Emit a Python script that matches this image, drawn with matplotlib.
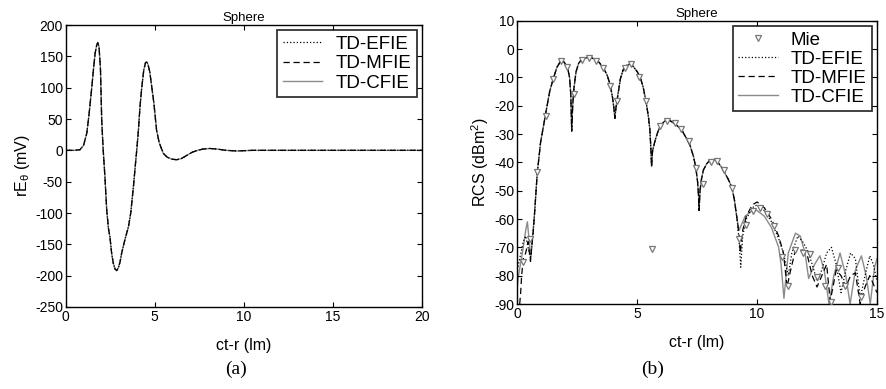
import numpy as np
import matplotlib
matplotlib.use("Agg")
import matplotlib.pyplot as plt

plt.rcParams["font.family"] = ["Liberation Sans", "DejaVu Sans"]
plt.rcParams["mathtext.fontset"] = "custom"
plt.rcParams["mathtext.rm"] = "Liberation Sans"
plt.rcParams["mathtext.it"] = "Liberation Sans"
plt.rcParams["axes.unicode_minus"] = False

# ---- (a) far-field time signature ----
time_lm = [0.0, 0.5, 0.8, 1.0, 1.18, 1.3, 1.46, 1.56, 1.65, 1.74, 1.8, 1.87, 1.95,
           2.02, 2.1, 2.2, 2.3, 2.4, 2.48, 2.58, 2.67, 2.76, 2.86, 2.96, 3.05, 3.14,
           3.3, 3.52, 3.65, 3.8, 3.92, 4.0, 4.08, 4.17, 4.27, 4.38, 4.48, 4.55, 4.62,
           4.72, 4.83, 4.95, 5.1, 5.25, 5.48, 5.7, 5.95, 6.23, 6.5, 6.8, 7.1, 7.4,
           7.7, 8.1, 8.5, 9.0, 9.6, 10.5, 12.0, 14.0, 16.0, 18.0, 20.0]
e_theta_mv = [0, 0, 1, 8, 27, 55, 100, 130, 155, 168, 172, 165, 130,
              48, 2, -42, -95, -125, -138, -165, -180, -189, -192, -187, -178, -164,
              -145, -122, -100, -58, -20, 5, 32, 70, 101, 128, 140, 141, 137,
              125, 101, 75, 32, 12, -5, -11, -14, -15, -13, -8, -3, 0,
              2, 3, 2, 0, -1, 0, 0, 0, 0, 0, 0]

# ---- (b) RCS vs. frequency ----
mie_f = [0.23, 0.53, 0.83, 1.20, 1.50, 1.81, 2.09, 2.36, 2.68, 3.00, 3.28, 3.59,
         3.87, 4.14, 4.50, 4.75, 5.07, 5.35, 5.63, 5.95, 6.26, 6.56, 6.84, 7.15,
         7.45, 7.73, 8.06, 8.31, 8.62, 8.94, 9.25, 9.54, 9.84, 10.13, 10.43,
         10.72, 11.03, 11.30, 11.60, 11.93, 12.20, 12.51, 12.83, 13.08, 13.39,
         13.67, 14.32]
mie_rcs = [-75, -67, -43.5, -23.6, -10.5, -4.2, -6.2, -15.8, -3.9, -3.05, -4.2,
           -6.8, -12.9, -18.3, -6.6, -5.4, -9.9, -18.5, -70.7, -27.2, -25.4, -26.0,
           -28.2, -32.5, -42.1, -47.5, -39.8, -39.6, -42.7, -49.0, -67.0, -62.0,
           -57.0, -56.0, -58.4, -62.5, -73.5, -83.6, -71.0, -71.9, -72.4, -80.4,
           -83.6, -89.2, -77.4, -83.6, -87.4]

# band where the three formulations agree
common_f = [0.72, 0.83, 0.97, 1.2, 1.35, 1.5, 1.65, 1.81, 1.95, 2.09, 2.18, 2.23,
            2.27, 2.31, 2.36, 2.45, 2.56, 2.7, 2.96, 3.2, 3.4, 3.59, 3.75, 3.87,
            3.97, 4.03, 4.07, 4.11, 4.17, 4.3, 4.42, 4.55, 4.7, 4.84, 5.0, 5.12,
            5.25, 5.37, 5.47, 5.53, 5.57, 5.6, 5.64, 5.74, 5.85, 5.95, 6.1, 6.23,
            6.35, 6.5, 6.7, 6.86, 7.05, 7.2, 7.35, 7.45, 7.52, 7.56, 7.58, 7.62,
            7.68, 7.76, 7.9, 8.04, 8.18, 8.31, 8.5, 8.66, 8.8, 8.94, 9.05, 9.17]
common_rcs = [-58, -44, -33, -22, -15, -10.5, -6.5, -4.2, -4.6, -6.4, -10, -16,
              -29, -20, -14, -8, -5, -3.6, -2.9, -3.4, -4.6, -6.6, -9.3, -12.5,
              -17, -21, -24.5, -21, -17.5, -10.5, -7.2, -5.8, -5.3, -6.2, -8,
              -9.8, -13.5, -18.6, -24, -28.6, -35, -41.5, -36, -32.5, -29.5, -27.4,
              -25.8, -25, -25.2, -26, -27.3, -28.6, -31.5, -33.9, -38, -42.1, -47,
              -52, -57, -50, -46, -42.7, -40.5, -39.2, -39, -39.4, -41.5, -43.9,
              -46, -48.6, -53, -60.3]

efie_lo_f = [0.0, 0.05, 0.15, 0.25, 0.35, 0.45, 0.55, 0.65]
efie_lo = [-78, -76, -72, -68, -66, -70, -74, -66]
efie_hi_f = [9.25, 9.32, 9.4, 9.55, 9.8, 10.0, 10.3, 10.6, 10.9, 11.1, 11.3, 11.45,
             11.7, 11.9, 12.1, 12.3, 12.5, 12.7, 12.9, 13.1, 13.3, 13.5, 13.7, 13.9,
             14.1, 14.3, 14.5, 14.7, 14.85, 15.0]
efie_hi = [-68, -77, -66, -60, -56, -55, -57, -61, -67, -72, -80, -72,
           -66, -68, -71, -76, -82, -78, -72, -70, -76, -86, -78, -72,
           -74, -88, -80, -73, -76, -82]

mfie_lo_f = [0.1, 0.14, 0.18, 0.25, 0.35, 0.45, 0.55, 0.6, 0.67]
mfie_lo = [-90, -86, -80, -74, -72, -68, -75, -70, -64]
mfie_hi_f = [9.25, 9.3, 9.4, 9.55, 9.8, 10.0, 10.3, 10.6, 10.9, 11.1, 11.25,
             11.4, 11.6, 11.9, 12.1, 12.3, 12.5, 12.7, 12.9, 13.05, 13.3, 13.5,
             13.7, 13.9, 14.1, 14.3, 14.5, 14.7, 14.9, 15.0]
mfie_hi = [-66, -72, -64, -59, -55, -54, -56, -60, -66, -72, -84,
           -78, -71, -71, -73, -80, -84, -80, -76, -89, -78, -80,
           -84, -80, -79, -90, -84, -80, -84, -86]

cfie_lo_f = [0.0, 0.05, 0.15, 0.25, 0.35, 0.42, 0.5, 0.56, 0.64]
cfie_lo = [-84, -80, -75, -70, -64, -61, -68, -74, -66]
cfie_hi_f = [9.25, 9.3, 9.5, 9.8, 10.0, 10.3, 10.6, 10.9, 11.0, 11.12, 11.3, 11.6,
             11.8, 12.0, 12.15, 12.4, 12.62, 12.8, 13.0, 13.2, 13.46, 13.7, 13.88,
             14.1, 14.35, 14.55, 14.72, 14.9, 15.0]
cfie_hi = [-64, -63, -59, -57, -57, -59, -63, -70, -76, -88, -72, -65,
           -66, -72, -81, -76, -73, -78, -90, -80, -72, -80, -90,
           -78, -73, -80, -90, -77, -74]

GRAY = "#8a8a8a"
DASH = (5, 3)
fig = plt.figure(figsize=(8.87, 3.89), dpi=100)
ax1 = fig.add_axes([0.0741, 0.2108, 0.4017, 0.7249])
ax2 = fig.add_axes([0.5832, 0.2185, 0.4055, 0.7283])

legend_kw = dict(loc="upper right", borderaxespad=0, fontsize=13.5, frameon=True,
                 fancybox=False, edgecolor="black", handlelength=2.1,
                 handletextpad=0.7, borderpad=0.3)

# ----- panel (a) -----
ax1.plot(time_lm, e_theta_mv, ":", color="black", lw=0.9, label="TD-EFIE", zorder=3)
ax1.plot(time_lm, e_theta_mv, "--", dashes=DASH, color="black", lw=0.9,
         label="TD-MFIE", zorder=2)
ax1.plot(time_lm, e_theta_mv, "-", color=GRAY, lw=1.0, label="TD-CFIE", zorder=1)
ax1.set_xlim(0, 20)
ax1.set_ylim(-250, 200)
ax1.set_xticks([0, 5, 10, 15, 20])
ax1.set_yticks(np.arange(-250, 201, 50))
ax1.set_title("Sphere", fontsize=9.5, pad=3)
ax1.set_xlabel("ct-r (lm)", fontsize=11.5, labelpad=10)
ax1.set_ylabel(r"rE$_{\theta}$ (mV)", fontsize=11.5, labelpad=2)
leg1 = ax1.legend(bbox_to_anchor=(0.985, 0.982), labelspacing=0.12, **legend_kw)
leg1.get_frame().set_linewidth(1.3)

# ----- panel (b) -----
f_efie = efie_lo_f + common_f + efie_hi_f
r_efie = efie_lo + common_rcs + efie_hi
f_mfie = mfie_lo_f + common_f + mfie_hi_f
r_mfie = mfie_lo + common_rcs + mfie_hi
f_cfie = cfie_lo_f + common_f + cfie_hi_f
r_cfie = cfie_lo + common_rcs + cfie_hi

ax2.plot(mie_f, mie_rcs, linestyle="none", marker="v", markersize=4.5,
         markerfacecolor="white", markeredgecolor="#777777", markeredgewidth=0.9,
         label="Mie", zorder=4)
ax2.plot(f_efie, r_efie, ":", color="black", lw=0.9, label="TD-EFIE", zorder=3)
ax2.plot(f_mfie, r_mfie, "--", dashes=DASH, color="black", lw=0.9,
         label="TD-MFIE", zorder=2)
ax2.plot(f_cfie, r_cfie, "-", color=GRAY, lw=1.0, label="TD-CFIE", zorder=1)
ax2.set_xlim(0, 15)
ax2.set_ylim(-90, 10)
ax2.set_xticks([0, 5, 10, 15])
ax2.set_yticks(np.arange(-90, 11, 10))
ax2.set_title("Sphere", fontsize=9.5, pad=3)
ax2.set_xlabel("ct-r (lm)", fontsize=11.5, labelpad=10)
ax2.set_ylabel(r"RCS (dBm$^{2}$)", fontsize=11.5, labelpad=2)
leg2 = ax2.legend(bbox_to_anchor=(0.987, 0.982), labelspacing=0.1, **legend_kw)
leg2.get_frame().set_linewidth(1.3)

for ax in (ax1, ax2):
    ax.tick_params(direction="in", top=True, right=True, length=3.5, width=0.8,
                   labelsize=10, pad=2)
    for sp in ax.spines.values():
        sp.set_linewidth(1.0)

fig.text(0.266, 0.028, "(a)", family=["Liberation Serif", "DejaVu Serif"],
         fontsize=14, ha="center", va="bottom")
fig.text(0.736, 0.028, "(b)", family=["Liberation Serif", "DejaVu Serif"],
         fontsize=14, ha="center", va="bottom")

fig.savefig("out.png", dpi=100)
